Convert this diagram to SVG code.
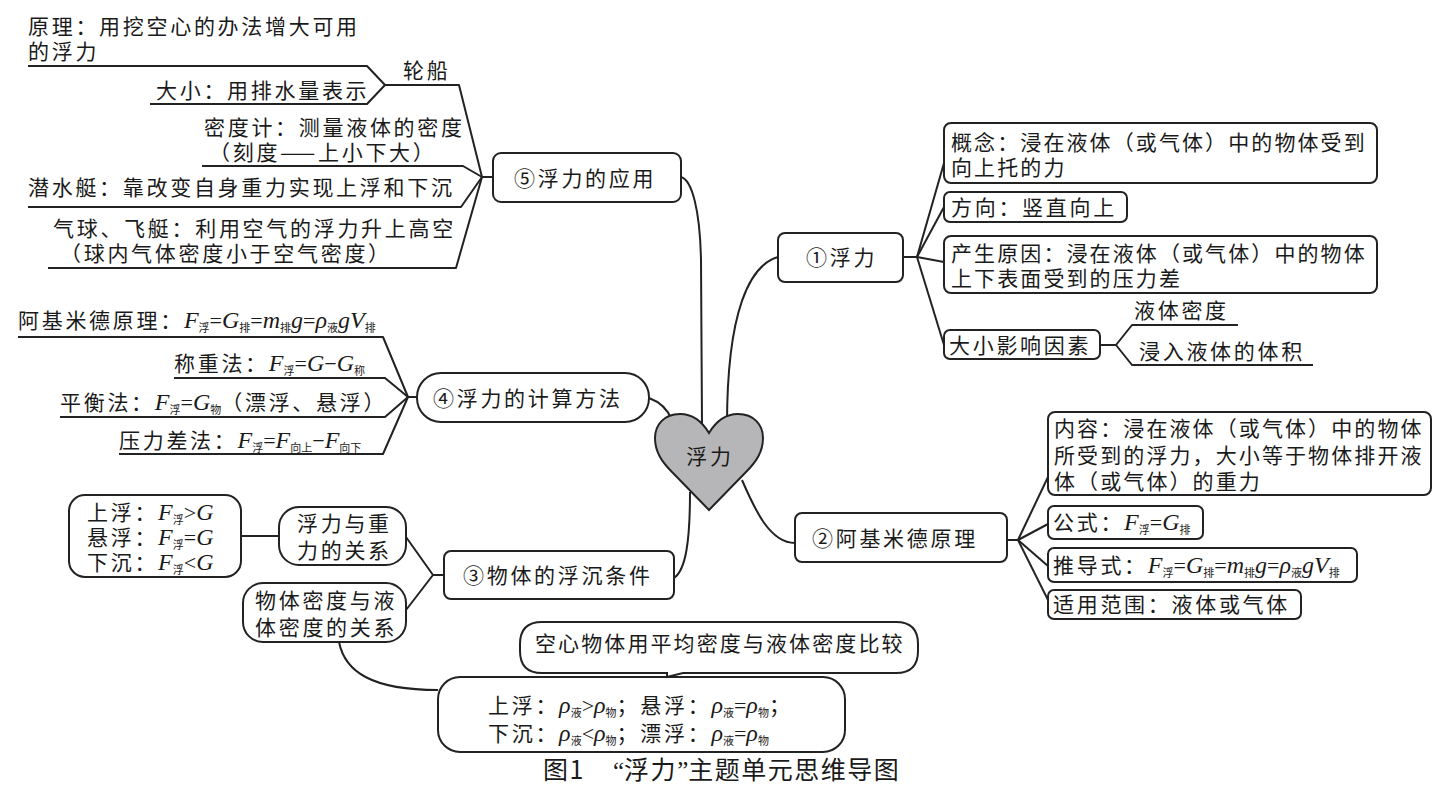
<svg xmlns="http://www.w3.org/2000/svg" width="1446" height="802" viewBox="0 0 1446 802">
<style>
.c path{fill:none;stroke:#222;stroke-width:2;stroke-linejoin:round}
.b{fill:#fff;stroke:#222;stroke-width:2}
.t{font-family:"Noto Sans CJK SC","Noto Sans CJK JP",sans-serif;font-size:21px;letter-spacing:2.7px;fill:#1a1a1a}
.r{letter-spacing:2.1px}
.i{font-family:"Liberation Serif",serif;font-style:italic;font-size:24px;letter-spacing:0}
.o{font-family:"Liberation Serif",serif;font-size:22px;letter-spacing:0}
.s{font-size:11px;letter-spacing:0}
.q{font-family:"Liberation Serif",serif;letter-spacing:0}
</style>
<rect width="1446" height="802" fill="#fff"/>
<g id="connectors" class="c">
<path d="M681,177 C692,180 700,210 701,260 L702,425"/>
<path d="M778,257 C750,265 727,310 727,425"/>
<path d="M649,398 C660,402 668,410 672,420"/>
<path d="M674,578 C686,570 690,540 690,492"/>
<path d="M742,480 C755,510 770,543 795,543"/>
<path d="M482,177 H493"/>
<path d="M482,177 L459,85 H385"/>
<path d="M385,85 L367,66 H28"/>
<path d="M385,85 L367,104 H150"/>
<path d="M482,177 L463,166 H202"/>
<path d="M482,177 L461,207 H28"/>
<path d="M482,177 L456,268 H48"/>
<path d="M408,397 H417"/>
<path d="M408,397 L383,337 H18"/>
<path d="M408,397 L385,378 H174"/>
<path d="M408,397 L385,417 H60"/>
<path d="M408,397 L383,454 H119"/>
<path d="M903,257 H917"/>
<path d="M917,257 L944,163"/>
<path d="M917,257 L944,207"/>
<path d="M917,257 L944,262"/>
<path d="M917,257 L944,345"/>
<path d="M1100,345 H1116 L1132,325 H1238"/>
<path d="M1116,345 L1132,365 H1313"/>
<path d="M1007,540 H1018"/>
<path d="M1018,540 L1048,477"/>
<path d="M1018,540 L1048,524"/>
<path d="M1018,540 L1048,566"/>
<path d="M1018,540 L1048,600"/>
<path d="M444,575 H433 L406,537"/>
<path d="M433,575 L406,610"/>
<path d="M241,536 H279"/>
<path d="M339,642 C345,672 372,690 438,690"/>
</g>
<g id="heart">
<path d="M709,433 C700,418 690,414 680,414 C664,414 655,425 655,438 C655,452 662,462 672,472 L709,510 L746,472 C756,462 763,452 763,438 C763,425 754,414 738,414 C728,414 718,418 709,433 Z" fill="#b6b6b8" stroke="#222" stroke-width="2"/>
<text class="t" x="710" y="464" text-anchor="middle">浮力</text>
</g>
<g id="n5">
<rect class="b" x="493" y="153" width="188" height="49" rx="8"/>
<text class="t" x="514" y="186">⑤浮力的应用</text>
</g>
<g id="n5a"><text class="t" x="28" y="34">原理：用挖空心的办法增大可用</text><text class="t" x="28" y="59">的浮力</text></g>
<g id="n5b"><text class="t" x="403" y="78">轮船</text></g>
<g id="n5c"><text class="t" x="156" y="98">大小：用排水量表示</text></g>
<g id="n5d"><text class="t" x="204" y="135">密度计：测量液体的密度</text><text class="t" x="209" y="160">（刻度——上小下大）</text></g>
<g id="n5e"><text class="t" x="28" y="195">潜水艇：靠改变自身重力实现上浮和下沉</text></g>
<g id="n5f"><text class="t" x="53" y="236">气球、飞艇：利用空气的浮力升上高空</text><text class="t" x="60" y="261">（球内气体密度小于空气密度）</text></g>

<g id="n1">
<rect class="b" x="778" y="233" width="125" height="49" rx="7"/>
<text class="t" x="806" y="265">①浮力</text>
</g>
<g id="n1a"><rect class="b" x="944" y="123" width="433" height="60" rx="7"/><text class="t r" x="951" y="150">概念：浸在液体（或气体）中的物体受到</text><text class="t r" x="951" y="175">向上托的力</text></g>
<g id="n1b"><rect class="b" x="944" y="192" width="183" height="30" rx="6"/><text class="t" x="951" y="215">方向：竖直向上</text></g>
<g id="n1c"><rect class="b" x="944" y="236" width="433" height="57" rx="7"/><text class="t r" x="951" y="261">产生原因：浸在液体（或气体）中的物体</text><text class="t r" x="951" y="286">上下表面受到的压力差</text></g>
<g id="n1d"><rect class="b" x="944" y="330" width="156" height="29" rx="6"/><text class="t" x="949" y="353">大小影响因素</text></g>
<g id="n1e"><text class="t" x="1134" y="318">液体密度</text></g>
<g id="n1f"><text class="t" x="1139" y="359">浸入液体的体积</text></g>

<g id="n4">
<rect class="b" x="417" y="373" width="232" height="49" rx="24"/>
<text class="t" x="433" y="406">④浮力的计算方法</text>
</g>
<g id="n4a"><text class="t" x="18" y="328">阿基米德原理：<tspan class="i">F</tspan><tspan class="s" dy="4">浮</tspan><tspan class="o" dy="-4">=</tspan><tspan class="i">G</tspan><tspan class="s" dy="4">排</tspan><tspan class="o" dy="-4">=</tspan><tspan class="i">m</tspan><tspan class="s" dy="4">排</tspan><tspan class="i" dy="-4">g</tspan><tspan class="o">=</tspan><tspan class="i">ρ</tspan><tspan class="s" dy="4">液</tspan><tspan class="i" dy="-4">gV</tspan><tspan class="s" dy="4">排</tspan></text></g>
<g id="n4b"><text class="t" x="174" y="371">称重法：<tspan class="i">F</tspan><tspan class="s" dy="4">浮</tspan><tspan class="o" dy="-4">=</tspan><tspan class="i">G</tspan><tspan class="o">−</tspan><tspan class="i">G</tspan><tspan class="s" dy="4">称</tspan></text></g>
<g id="n4c"><text class="t" x="60" y="410">平衡法：<tspan class="i">F</tspan><tspan class="s" dy="4">浮</tspan><tspan class="o" dy="-4">=</tspan><tspan class="i">G</tspan><tspan class="s" dy="4">物</tspan><tspan dy="-4">（漂浮、悬浮）</tspan></text></g>
<g id="n4d"><text class="t" x="119" y="448">压力差法：<tspan class="i">F</tspan><tspan class="s" dy="4">浮</tspan><tspan class="o" dy="-4">=</tspan><tspan class="i">F</tspan><tspan class="s" dy="4">向上</tspan><tspan class="o" dy="-4">−</tspan><tspan class="i">F</tspan><tspan class="s" dy="4">向下</tspan></text></g>

<g id="n2">
<rect class="b" x="795" y="513" width="212" height="49" rx="7"/>
<text class="t" x="812" y="546">②阿基米德原理</text>
</g>
<g id="n2a"><rect class="b" x="1048" y="412" width="383" height="83" rx="7"/><text class="t r" x="1054" y="436">内容：浸在液体（或气体）中的物体</text><text class="t r" x="1054" y="463">所受到的浮力，大小等于物体排开液</text><text class="t r" x="1054" y="489">体（或气体）的重力</text></g>
<g id="n2b"><rect class="b" x="1048" y="506" width="155" height="33" rx="6"/><text class="t" x="1053" y="530">公式：<tspan class="i">F</tspan><tspan class="s" dy="4">浮</tspan><tspan class="o" dy="-4">=</tspan><tspan class="i">G</tspan><tspan class="s" dy="4">排</tspan></text></g>
<g id="n2c"><rect class="b" x="1048" y="548" width="309" height="34" rx="6"/><text class="t" x="1053" y="573">推导式：<tspan class="i">F</tspan><tspan class="s" dy="4">浮</tspan><tspan class="o" dy="-4">=</tspan><tspan class="i">G</tspan><tspan class="s" dy="4">排</tspan><tspan class="o" dy="-4">=</tspan><tspan class="i">m</tspan><tspan class="s" dy="4">排</tspan><tspan class="i" dy="-4">g</tspan><tspan class="o">=</tspan><tspan class="i">ρ</tspan><tspan class="s" dy="4">液</tspan><tspan class="i" dy="-4">gV</tspan><tspan class="s" dy="4">排</tspan></text></g>
<g id="n2d"><rect class="b" x="1048" y="590" width="253" height="29" rx="6"/><text class="t" x="1053" y="612">适用范围：液体或气体</text></g>

<g id="n3">
<rect class="b" x="444" y="551" width="230" height="48" rx="7"/>
<text class="t" x="463" y="583">③物体的浮沉条件</text>
</g>
<g id="n3a"><rect class="b" x="279" y="507" width="127" height="58" rx="20"/><text class="t" x="297" y="531">浮力与重</text><text class="t" x="297" y="558">力的关系</text></g>
<g id="n3b"><rect class="b" x="69" y="495" width="172" height="82" rx="16"/>
<text class="t" x="87" y="520">上浮：<tspan class="i">F</tspan><tspan class="s" dy="4">浮</tspan><tspan class="o" dy="-4">&gt;</tspan><tspan class="i">G</tspan></text>
<text class="t" x="87" y="545">悬浮：<tspan class="i">F</tspan><tspan class="s" dy="4">浮</tspan><tspan class="o" dy="-4">=</tspan><tspan class="i">G</tspan></text>
<text class="t" x="87" y="570">下沉：<tspan class="i">F</tspan><tspan class="s" dy="4">浮</tspan><tspan class="o" dy="-4">&lt;</tspan><tspan class="i">G</tspan></text></g>
<g id="n3c"><rect class="b" x="243" y="583" width="163" height="59" rx="20"/><text class="t" x="255" y="608">物体密度与液</text><text class="t" x="255" y="635">体密度的关系</text></g>
<g id="n3d"><rect class="b" x="438" y="677" width="407" height="75" rx="22"/>
<text class="t" x="488" y="713">上浮：<tspan class="i">ρ</tspan><tspan class="s" dy="4">液</tspan><tspan class="o" dy="-4">&gt;</tspan><tspan class="i">ρ</tspan><tspan class="s" dy="4">物</tspan><tspan dy="-4">；悬浮：</tspan><tspan class="i">ρ</tspan><tspan class="s" dy="4">液</tspan><tspan class="o" dy="-4">=</tspan><tspan class="i">ρ</tspan><tspan class="s" dy="4">物</tspan><tspan dy="-4">；</tspan></text>
<text class="t" x="488" y="741">下沉：<tspan class="i">ρ</tspan><tspan class="s" dy="4">液</tspan><tspan class="o" dy="-4">&lt;</tspan><tspan class="i">ρ</tspan><tspan class="s" dy="4">物</tspan><tspan dy="-4">；漂浮：</tspan><tspan class="i">ρ</tspan><tspan class="s" dy="4">液</tspan><tspan class="o" dy="-4">=</tspan><tspan class="i">ρ</tspan><tspan class="s" dy="4">物</tspan></text></g>
<g id="n3e"><path class="b" d="M542,622 H896 Q918,622 918,644 V651 Q918,673 896,673 H683 L667,677 V673 H542 Q520,673 520,651 V644 Q520,622 542,622 Z"/><text class="t r" x="535" y="651">空心物体用平均密度与液体密度比较</text></g>
<g id="caption"><text class="t" x="543" y="779" style="font-size:25px;letter-spacing:1.5px">图1<tspan x="613" class="q">“</tspan>浮力<tspan class="q">”</tspan>主题单元思维导图</text></g>
</svg>
